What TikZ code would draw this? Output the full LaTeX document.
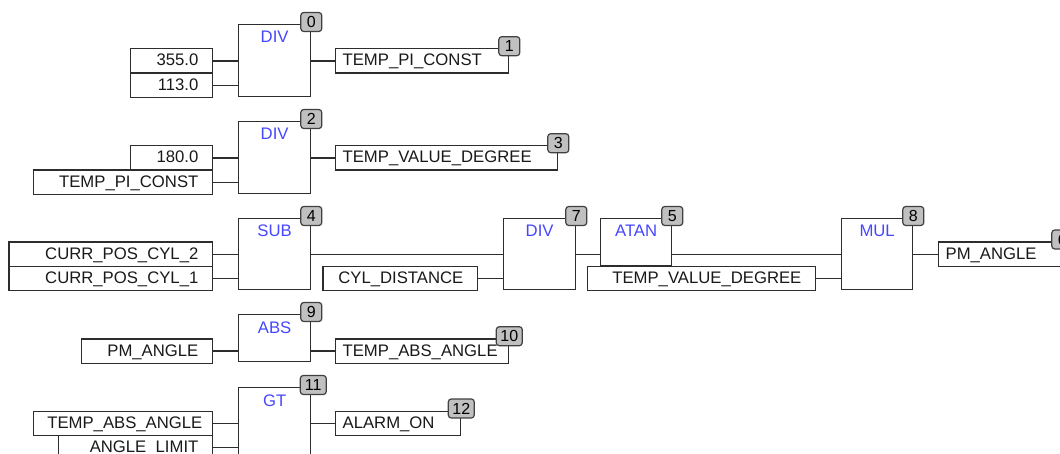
\documentclass[tikz,border=0pt]{standalone}
\usepackage{fontspec}
\setmainfont{Liberation Sans}
\usetikzlibrary{calc}
\definecolor{fbtitle}{RGB}{70,70,255}
\definecolor{badgefill}{RGB}{192,192,192}
\definecolor{badgeborder}{RGB}{64,64,64}
\definecolor{wire}{RGB}{45,45,45}
\definecolor{txt}{RGB}{25,25,25}
\begin{document}
\begin{tikzpicture}[x=1pt,y=-1pt,
  every node/.style={font=\fontsize{16.7}{18}\selectfont, text=txt},
  fb/.style={draw=wire, line width=1.3pt, minimum width=72pt, inner sep=0pt, anchor=north west},
  fbname/.style={text=fbtitle, inner sep=0pt, anchor=base},
  invar/.style={draw=wire, line width=1.3pt, minimum height=24.3pt, inner xsep=14pt, inner ysep=0pt, align=right, text height=13pt, text depth=3pt, anchor=east},
  outvar/.style={draw=wire, line width=1.3pt, minimum height=24.3pt, inner xsep=7pt, inner ysep=0pt, align=left, text height=13pt, text depth=3pt, anchor=west},
  badge/.style={draw=badgeborder, fill=badgefill, rounded corners=3pt, line width=1.2pt, minimum width=21pt, minimum height=19pt, inner sep=0pt, text=black, font=\fontsize{16}{18}\selectfont},
  wbadge/.style={badge, minimum width=26pt},
  wireline/.style={draw=wire, line width=1.3pt}
]
\useasboundingbox (0,0) rectangle (1060,454);
\clip (0,0) rectangle (1060,454);

% ---------- Row A : DIV 0 ----------
\node[fb, minimum height=72pt] (b0) at (238,24) {};
\node[fbname] (t0) at ($(b0.north)+(0,19)$) {DIV};
\node[invar, text width=54pt] (i0a) at (213,61) {355.0};
\node[invar, text width=54pt] (i0b) at (213,85.3) {113.0};
\node[outvar, text width=159pt] (o1) at (335,61) {TEMP\_PI\_CONST};
\draw[wireline] (i0a.east) -- (i0a.east -| b0.west);
\draw[wireline] (i0b.east) -- (i0b.east -| b0.west);
\draw[wireline] (o1.west -| b0.east) -- (o1.west);
\node[badge] (n0) at ($(b0.north east)+(0,-2)$) {0};
\node[badge] (n1) at ($(o1.north east)+(0,-2)$) {1};

% ---------- Row B : DIV 2 ----------
\node[fb, minimum height=72pt] (b2) at (238,121) {};
\node[fbname] (t2) at ($(b2.north)+(0,19)$) {DIV};
\node[invar, text width=54pt] (i2a) at (213,158) {180.0};
\node[invar, text width=151pt] (i2b) at (213,182.3) {TEMP\_PI\_CONST};
\node[outvar, text width=208pt] (o3) at (335,158) {TEMP\_VALUE\_DEGREE};
\draw[wireline] (i2a.east) -- (i2a.east -| b2.west);
\draw[wireline] (i2b.east) -- (i2b.east -| b2.west);
\draw[wireline] (o3.west -| b2.east) -- (o3.west);
\node[badge] (n2) at ($(b2.north east)+(0,-2)$) {2};
\node[badge] (n3) at ($(o3.north east)+(0,-2)$) {3};

% ---------- Row C : SUB 4, DIV 7, ATAN 5, MUL 8 ----------
\node[fb, minimum height=71pt] (b4) at (238,218) {};
\node[fbname] (t4) at ($(b4.north)+(0,19)$) {SUB};
\node[invar, text width=175.5pt] (i4a) at (213,254.3) {CURR\_POS\_CYL\_2};
\node[invar, text width=175.5pt] (i4b) at (213,278.6) {CURR\_POS\_CYL\_1};
\node[invar, text width=126.5pt] (c7) at (478,278.6) {CYL\_DISTANCE};
\node[fb, minimum height=71pt] (b7) at (503,218) {};
\node[fbname] (t7) at ($(b7.north)+(0,19)$) {DIV};
\node[fb, minimum width=71pt, minimum height=47pt] (b5) at (600,218) {};
\node[fbname] (t5) at ($(b5.north)+(0,19)$) {ATAN};
\node[invar, text width=200pt] (i8) at (816,278.6) {TEMP\_VALUE\_DEGREE};
\node[fb, minimum width=71pt, minimum height=71pt] (b8) at (841,218) {};
\node[fbname] (t8) at ($(b8.north)+(0,19)$) {MUL};
\node[outvar, text width=109pt] (o6) at (938,254.3) {PM\_ANGLE};
\draw[wireline] (i4a.east) -- (i4a.east -| b4.west);
\draw[wireline] (i4b.east) -- (i4b.east -| b4.west);
\draw[wireline] (b4.east |- i4a.east) -- (b7.west |- i4a.east);
\draw[wireline] (c7.east) -- (c7.east -| b7.west);
\draw[wireline] (b7.east |- i4a.east) -- (b5.west |- i4a.east);
\draw[wireline] (b5.east |- i4a.east) -- (b8.west |- i4a.east);
\draw[wireline] (i8.east) -- (i8.east -| b8.west);
\draw[wireline] (b8.east |- o6.west) -- (o6.west);
\node[badge] (n4) at ($(b4.north east)+(0,-2)$) {4};
\node[badge] (n7) at ($(b7.north east)+(0,-2)$) {7};
\node[badge] (n5) at ($(b5.north east)+(0,-2)$) {5};
\node[badge] (n8) at ($(b8.north east)+(0,-2)$) {8};
\node[badge] (n6) at ($(o6.north east)+(0,-2)$) {6};

% ---------- Row D : ABS 9 ----------
\node[fb, minimum height=47pt] (b9) at (238,314) {};
\node[fbname] (t9) at ($(b9.north)+(0,19)$) {ABS};
\node[invar, text width=103pt] (i9) at (213,351) {PM\_ANGLE};
\node[outvar, text width=159pt] (o10) at (335,351) {TEMP\_ABS\_ANGLE};
\draw[wireline] (i9.east) -- (i9.east -| b9.west);
\draw[wireline] (o10.west -| b9.east) -- (o10.west);
\node[badge] (n9) at ($(b9.north east)+(0,-2)$) {9};
\node[wbadge] (n10) at ($(o10.north east)+(0,-2)$) {10};

% ---------- Row E : GT 11 ----------
\node[fb, minimum height=72pt] (b11) at (238,387) {};
\node[fbname] (t11) at ($(b11.north)+(0,19)$) {GT};
\node[invar, text width=151pt] (i11a) at (213,423.3) {TEMP\_ABS\_ANGLE};
\node[invar, text width=126pt] (i11b) at (213,447.6) {ANGLE\_LIMIT};
\node[outvar, text width=111pt] (o12) at (335,423.3) {ALARM\_ON};
\draw[wireline] (i11a.east) -- (i11a.east -| b11.west);
\draw[wireline] (i11b.east) -- (i11b.east -| b11.west);
\draw[wireline] (o12.west -| b11.east) -- (o12.west);
\node[wbadge] (n11) at ($(b11.north east)+(2,-2)$) {11};
\node[wbadge] (n12) at ($(o12.north east)+(0,-2)$) {12};
\end{tikzpicture}
\end{document}
